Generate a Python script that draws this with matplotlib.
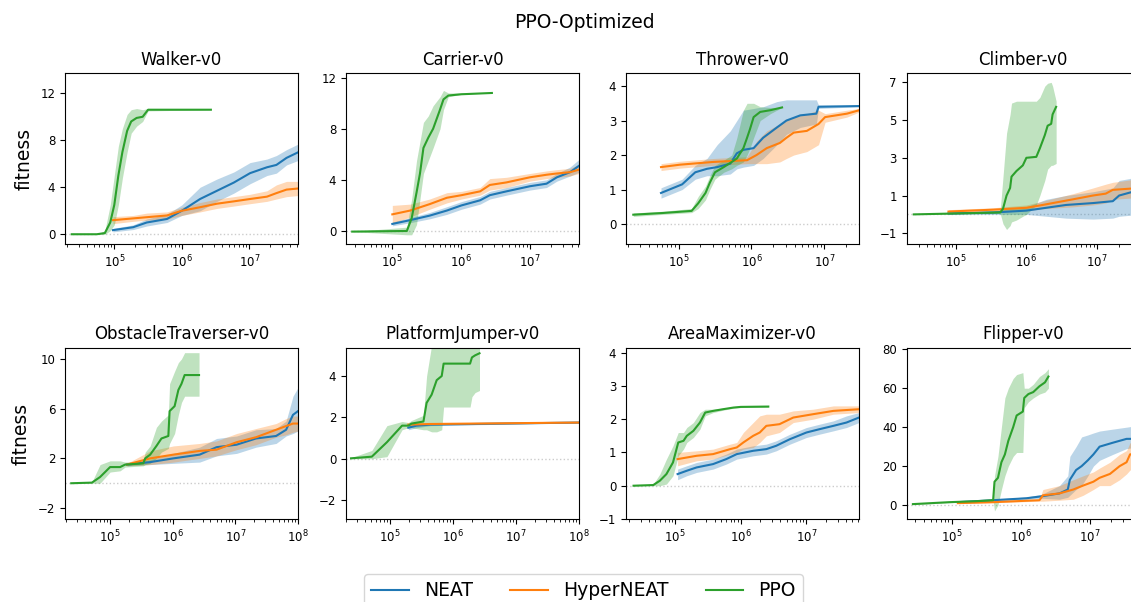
import numpy as np
import matplotlib
matplotlib.use("Agg")
import matplotlib.pyplot as plt

# ---------------- data (x stored as log10 of steps) ----------------
TITLES = ["Walker-v0", "Carrier-v0", "Thrower-v0", "Climber-v0",
          "ObstacleTraverser-v0", "PlatformJumper-v0", "AreaMaximizer-v0", "Flipper-v0"]
METHODS = ["NEAT", "HyperNEAT", "PPO"]
COLORS = ["#1f77b4", "#ff7f0e", "#2ca02c"]

# Walker
walker_ppo_x = [4.37, 4.74, 4.86, 4.94, 5.0, 5.06, 5.12, 5.19, 5.25, 5.33, 5.42, 5.5, 6.43]
walker_ppo_y = [0, 0, 0.1, 1.0, 2.5, 5.0, 7.0, 8.8, 9.6, 9.9, 10.0, 10.6, 10.6]
walker_ppo_lo = [0, 0, 0, 0.3, 0.8, 2.5, 4.8, 7.0, 8.6, 9.2, 9.6, 10.5, 10.6]
walker_ppo_hi = [0, 0, 0.3, 2.5, 5.0, 7.5, 9.0, 10.2, 10.6, 10.7, 10.6, 10.7, 10.6]
walker_evo_x = [4.98, 5.28, 5.48, 5.78, 6.0, 6.27, 6.52, 6.77, 7.01, 7.26, 7.40, 7.55, 7.73]
walker_neat_y = [0.35, 0.6, 1.0, 1.3, 2.0, 3.0, 3.7, 4.4, 5.2, 5.7, 5.9, 6.5, 7.0]
walker_neat_lo = [0.2, 0.4, 0.7, 1.0, 1.6, 2.0, 2.8, 3.5, 4.3, 5.0, 5.2, 5.9, 6.3]
walker_neat_hi = [0.5, 0.8, 1.3, 1.7, 2.5, 4.0, 4.7, 5.3, 6.1, 6.4, 6.7, 7.2, 7.7]
walker_hyper_y = [1.2, 1.35, 1.45, 1.6, 2.0, 2.3, 2.6, 2.8, 3.0, 3.2, 3.5, 3.8, 3.9]
walker_hyper_lo = [0.9, 1.1, 1.2, 1.3, 1.6, 1.9, 2.2, 2.4, 2.6, 2.8, 3.0, 3.2, 3.3]
walker_hyper_hi = [1.5, 1.6, 1.8, 1.9, 2.3, 2.7, 3.0, 3.2, 3.4, 3.7, 4.2, 4.5, 4.5]

# Carrier
carrier_ppo_x = [4.43, 5.22, 5.29, 5.36, 5.41, 5.46, 5.53, 5.60, 5.70, 5.75, 5.82, 6.01, 6.45]
carrier_ppo_y = [-0.05, 0, 1.0, 3.0, 4.5, 6.5, 7.3, 8.0, 9.5, 10.3, 10.6, 10.7, 10.8]
carrier_ppo_lo = [-0.05, -0.3, -0.3, 0.5, 2.5, 4.5, 5.5, 6.5, 8.0, 9.5, 10.5, 10.7, 10.8]
carrier_ppo_hi = [-0.05, 0.3, 2.5, 5.5, 7.0, 8.5, 9.0, 9.8, 10.5, 11.0, 10.8, 10.8, 10.8]
carrier_evo_x = [5.01, 5.27, 5.55, 5.80, 6.01, 6.28, 6.42, 6.66, 7.0, 7.24, 7.39, 7.58, 7.71]
carrier_neat_y = [0.55, 0.85, 1.2, 1.6, 2.0, 2.4, 2.8, 3.1, 3.5, 3.7, 4.2, 4.6, 5.1]
carrier_neat_lo = [0.4, 0.65, 0.95, 1.3, 1.7, 2.1, 2.5, 2.8, 3.2, 3.4, 3.9, 4.3, 4.6]
carrier_neat_hi = [0.7, 1.05, 1.45, 1.9, 2.3, 2.7, 3.1, 3.4, 3.8, 4.0, 4.5, 5.0, 5.6]
carrier_hyper_y = [1.3, 1.6, 2.1, 2.6, 2.8, 3.1, 3.6, 3.8, 4.2, 4.4, 4.5, 4.6, 4.8]
carrier_hyper_lo = [0.6, 1.1, 1.7, 2.2, 2.5, 2.8, 3.2, 3.4, 3.9, 4.1, 4.2, 4.3, 4.5]
carrier_hyper_hi = [2.0, 2.1, 2.5, 3.0, 3.1, 3.4, 4.1, 4.2, 4.5, 4.7, 4.8, 4.9, 5.2]

# Thrower
thrower_ppo_x = [4.38, 4.79, 5.18, 5.27, 5.37, 5.43, 5.50, 5.62, 5.73, 5.80, 5.89, 5.94, 5.98, 6.03, 6.12, 6.26, 6.42]
thrower_ppo_y = [0.27, 0.32, 0.38, 0.6, 0.9, 1.2, 1.5, 1.65, 1.8, 1.9, 2.2, 2.5, 2.75, 3.1, 3.25, 3.3, 3.38]
thrower_ppo_lo = [0.22, 0.28, 0.33, 0.45, 0.7, 1.0, 1.3, 1.5, 1.6, 1.7, 1.8, 2.0, 2.2, 2.5, 3.0, 3.2, 3.38]
thrower_ppo_hi = [0.32, 0.37, 0.45, 0.8, 1.1, 1.4, 1.7, 1.85, 2.0, 2.5, 3.3, 3.5, 3.5, 3.5, 3.4, 3.38, 3.38]
thrower_neat_x = [4.76, 5.05, 5.23, 5.39, 5.53, 5.71, 5.80, 5.89, 6.03, 6.16, 6.35, 6.48, 6.67, 6.89, 6.92, 7.48]
thrower_neat_y = [0.9, 1.15, 1.5, 1.6, 1.65, 1.75, 2.05, 2.15, 2.2, 2.5, 2.8, 3.0, 3.15, 3.2, 3.4, 3.42]
thrower_neat_lo = [0.75, 1.0, 1.3, 1.4, 1.4, 1.45, 1.6, 1.65, 1.7, 1.9, 2.3, 2.6, 2.8, 2.9, 3.35, 3.4]
thrower_neat_hi = [1.05, 1.3, 1.7, 1.9, 2.3, 2.7, 3.0, 3.3, 3.35, 3.4, 3.55, 3.6, 3.6, 3.6, 3.45, 3.44]
thrower_hyper_x = [4.76, 5.02, 5.48, 5.94, 6.07, 6.21, 6.39, 6.48, 6.58, 6.76, 6.92, 7.01, 7.31, 7.48]
thrower_hyper_y = [1.65, 1.72, 1.8, 1.85, 2.0, 2.2, 2.35, 2.5, 2.65, 2.7, 2.9, 3.1, 3.2, 3.3]
thrower_hyper_lo = [1.55, 1.62, 1.7, 1.75, 1.75, 1.75, 1.8, 1.9, 2.0, 2.1, 2.3, 2.95, 3.1, 3.25]
thrower_hyper_hi = [1.75, 1.82, 1.9, 1.95, 2.4, 2.7, 2.9, 3.0, 3.1, 3.2, 3.3, 3.2, 3.3, 3.35]

# Climber
climber_ppo_x = [4.41, 5.63, 5.67, 5.72, 5.77, 5.79, 5.86, 5.95, 6.0, 6.14, 6.19, 6.26, 6.30, 6.35, 6.37, 6.42]
climber_ppo_y = [0, 0.1, 0.3, 1.0, 1.4, 2.0, 2.3, 2.6, 3.0, 3.05, 3.5, 4.2, 4.7, 4.8, 5.3, 5.7]
climber_ppo_lo = [0, 0.05, -0.5, -0.8, -0.6, -0.4, -0.3, -0.1, 0.0, 0.5, 1.0, 1.8, 2.4, 2.6, 2.6, 2.7]
climber_ppo_hi = [0, 0.2, 2.0, 4.3, 5.3, 5.9, 6.0, 6.0, 6.0, 6.0, 6.2, 6.8, 6.95, 7.0, 6.8, 6.0]
climber_neat_x = [4.9, 5.53, 6.0, 6.28, 6.56, 6.94, 7.22, 7.31, 7.6]
climber_neat_y = [0.05, 0.1, 0.2, 0.35, 0.5, 0.6, 0.7, 1.0, 1.3]
climber_neat_lo = [0.0, 0.0, 0.0, -0.1, -0.2, -0.25, -0.2, -0.1, 0.0]
climber_neat_hi = [0.1, 0.2, 0.4, 0.8, 1.0, 1.2, 1.4, 1.8, 2.0]
climber_hyper_x = [4.9, 5.53, 6.0, 6.23, 6.66, 6.94, 7.12, 7.22, 7.6]
climber_hyper_y = [0.15, 0.25, 0.35, 0.5, 0.8, 1.0, 1.1, 1.3, 1.4]
climber_hyper_lo = [0.05, 0.15, 0.2, 0.3, 0.4, 0.5, 0.6, 0.8, 0.9]
climber_hyper_hi = [0.25, 0.35, 0.5, 0.7, 1.1, 1.4, 1.6, 1.7, 1.9]

# ObstacleTraverser
obst_ppo_x = [4.38, 4.71, 4.84, 5.0, 5.16, 5.24, 5.53, 5.56, 5.64, 5.74, 5.82, 5.93, 5.95, 6.03, 6.09, 6.14, 6.19, 6.42]
obst_ppo_y = [0, 0.05, 0.5, 1.3, 1.3, 1.5, 1.6, 2.0, 2.3, 3.0, 3.6, 3.8, 5.8, 6.2, 7.5, 8.0, 8.7, 8.7]
obst_ppo_lo = [0, 0.0, 0.0, 0.9, 1.0, 1.3, 1.4, 1.5, 1.6, 2.0, 2.5, 2.8, 3.2, 4.0, 5.5, 6.5, 7.0, 7.0]
obst_ppo_hi = [0, 0.1, 1.5, 1.8, 1.8, 1.7, 1.8, 2.5, 3.0, 4.5, 5.0, 5.5, 8.0, 9.0, 9.7, 10.0, 10.5, 10.5]
obst_evo_x = [5.27, 5.64, 6.01, 6.43, 6.70, 7.02, 7.33, 7.65, 7.81, 7.92, 8.0]
obst_neat_y = [1.5, 1.7, 2.0, 2.3, 2.9, 3.1, 3.6, 3.8, 4.3, 5.5, 5.8]
obst_neat_lo = [1.4, 1.5, 1.6, 1.7, 2.2, 2.4, 2.9, 3.2, 3.8, 4.0, 4.2]
obst_neat_hi = [1.6, 1.9, 2.4, 2.9, 3.6, 3.8, 4.3, 4.4, 5.0, 7.0, 7.7]
obst_hyper_y = [1.5, 2.0, 2.3, 2.6, 2.7, 3.3, 3.7, 4.3, 4.6, 4.8, 4.8]
obst_hyper_lo = [1.4, 1.5, 1.7, 2.0, 2.2, 2.7, 3.1, 3.7, 3.9, 4.1, 4.2]
obst_hyper_hi = [1.6, 2.6, 3.0, 3.2, 3.4, 4.0, 4.4, 4.8, 5.2, 5.4, 5.4]

# PlatformJumper
plat_ppo_x = [4.38, 4.71, 4.95, 5.19, 5.29, 5.34, 5.53, 5.58, 5.66, 5.74, 5.82, 5.85, 6.27, 6.30, 6.35, 6.42]
plat_ppo_y = [0.02, 0.1, 0.8, 1.6, 1.6, 1.7, 1.8, 2.7, 3.1, 3.8, 4.0, 4.6, 4.6, 4.9, 5.0, 5.1]
plat_ppo_lo = [0.0, 0.0, 0.1, 1.4, 1.5, 1.5, 1.4, 1.4, 1.3, 1.3, 1.4, 2.5, 2.5, 3.0, 3.2, 3.3]
plat_ppo_hi = [0.05, 0.4, 1.6, 1.8, 1.75, 1.85, 2.1, 4.0, 5.5, 5.8, 5.8, 5.8, 5.8, 5.8, 5.8, 5.5]
plat_neat_x = [5.29, 5.42, 5.64, 8.0]
plat_neat_y = [1.5, 1.6, 1.65, 1.75]
plat_neat_lo = [1.4, 1.5, 1.6, 1.74]
plat_neat_hi = [1.6, 1.7, 1.7, 1.76]
plat_hyper_x = [5.29, 5.64, 8.0]
plat_hyper_y = [1.65, 1.68, 1.75]
plat_hyper_lo = [1.6, 1.64, 1.73]
plat_hyper_hi = [1.7, 1.72, 1.77]

# AreaMaximizer
area_ppo_x = [4.37, 4.67, 4.77, 4.87, 4.97, 5.05, 5.13, 5.18, 5.28, 5.38, 5.46, 5.58, 5.73, 5.89, 6.0, 6.42]
area_ppo_y = [0, 0.02, 0.15, 0.35, 0.7, 1.3, 1.35, 1.5, 1.65, 1.9, 2.2, 2.25, 2.3, 2.35, 2.37, 2.38]
area_ppo_lo = [0, 0, 0.0, 0.05, 0.3, 0.9, 1.1, 1.3, 1.45, 1.7, 2.1, 2.2, 2.27, 2.33, 2.35, 2.36]
area_ppo_hi = [0, 0.05, 0.35, 0.8, 1.2, 1.6, 1.6, 1.75, 1.9, 2.2, 2.3, 2.3, 2.33, 2.38, 2.4, 2.4]
area_neat_x = [5.04, 5.18, 5.33, 5.58, 5.78, 5.94, 6.19, 6.39, 6.54, 6.75, 7.0, 7.2, 7.41, 7.61, 7.8]
area_neat_y = [0.35, 0.45, 0.55, 0.65, 0.8, 0.95, 1.05, 1.1, 1.2, 1.4, 1.6, 1.7, 1.8, 1.9, 2.05]
area_neat_lo = [0.18, 0.3, 0.4, 0.5, 0.65, 0.8, 0.9, 0.95, 1.05, 1.25, 1.45, 1.55, 1.65, 1.75, 1.9]
area_neat_hi = [0.5, 0.6, 0.7, 0.8, 0.95, 1.1, 1.2, 1.25, 1.35, 1.55, 1.75, 1.85, 1.95, 2.1, 2.2]
area_hyper_x = [5.04, 5.33, 5.58, 5.84, 5.94, 6.04, 6.19, 6.29, 6.39, 6.59, 6.8, 7.1, 7.41, 7.8]
area_hyper_y = [0.8, 0.9, 0.95, 1.1, 1.15, 1.3, 1.5, 1.6, 1.8, 1.85, 2.05, 2.15, 2.25, 2.3]
area_hyper_lo = [0.6, 0.75, 0.8, 0.95, 1.0, 1.1, 1.15, 1.3, 1.5, 1.6, 1.9, 2.0, 2.15, 2.2]
area_hyper_hi = [1.0, 1.05, 1.1, 1.25, 1.3, 1.6, 1.9, 2.1, 2.15, 2.15, 2.25, 2.3, 2.4, 2.4]

# Flipper
flip_ppo_x = [4.44, 4.97, 5.36, 5.60, 5.62, 5.67, 5.72, 5.77, 5.82, 5.89, 5.94, 6.03, 6.05, 6.11, 6.18, 6.27, 6.35, 6.40]
flip_ppo_y = [0.5, 1.5, 2.0, 2.5, 12, 14, 22, 26, 33, 40, 46, 48, 55, 57, 58, 61, 63, 66]
flip_ppo_lo = [0.3, 1.2, 1.7, 2.0, -3, 0, 8, 15, 20, 25, 27, 27, 50, 53, 55, 57, 58, 60]
flip_ppo_hi = [0.7, 1.8, 2.3, 3.0, 15, 25, 40, 55, 60, 65, 67, 68, 60, 60, 62, 66, 68, 70]
flip_neat_x = [5.09, 5.6, 6.08, 6.3, 6.56, 6.68, 6.71, 6.8, 6.88, 6.97, 7.05, 7.14, 7.33, 7.53, 7.72]
flip_neat_y = [1.5, 2.5, 3.5, 4.5, 6, 8, 13, 18, 20, 23, 26, 30, 32, 34, 34]
flip_neat_lo = [1.2, 2.0, 2.8, 3.5, 3.0, 4.0, 5.0, 8.0, 10, 15, 20, 23, 26, 29, 30]
flip_neat_hi = [1.8, 3.0, 4.2, 5.5, 10, 15, 25, 30, 35, 36, 37, 38, 39, 40, 41]
flip_hyper_x = [5.09, 5.6, 6.27, 6.32, 6.56, 6.76, 6.9, 7.05, 7.14, 7.29, 7.43, 7.53, 7.58, 7.72]
flip_hyper_y = [1.0, 1.5, 2.5, 5, 6, 8, 10, 12, 14, 16, 20, 22, 26, 27]
flip_hyper_lo = [0.8, 1.2, 2.0, 2.0, 2.5, 3, 5, 8, 10, 10, 13, 16, 18, 20]
flip_hyper_hi = [1.2, 1.8, 3.0, 8.0, 10, 13, 15, 17, 19, 22, 26, 28, 32, 33]

# axis settings
XLIMS_LOG = [(4.27, 7.72), (4.34, 7.71), (4.28, 7.475), (4.31, 7.6),
             (4.28, 8.0), (4.30, 8.0), (4.255, 7.8), (4.35, 7.72)]
YLIMS = [(-0.83, 13.7), (-1.02, 12.34), (-0.58, 4.37), (-1.57, 7.48),
         (-2.9, 10.9), (-2.93, 5.37), (-1.01, 4.15), (-7.3, 80.8)]
YTICKS = [[0, 4, 8, 12], [0, 4, 8, 12], [0, 1, 2, 3, 4], [-1, 1, 3, 5, 7],
          [-2, 2, 6, 10], [-2, 0, 2, 4], [-1, 0, 1, 2, 3, 4], [0, 20, 40, 60, 80]]

PANELS = [
    [(walker_evo_x, walker_neat_y, walker_neat_lo, walker_neat_hi),
     (walker_evo_x, walker_hyper_y, walker_hyper_lo, walker_hyper_hi),
     (walker_ppo_x, walker_ppo_y, walker_ppo_lo, walker_ppo_hi)],
    [(carrier_evo_x, carrier_neat_y, carrier_neat_lo, carrier_neat_hi),
     (carrier_evo_x, carrier_hyper_y, carrier_hyper_lo, carrier_hyper_hi),
     (carrier_ppo_x, carrier_ppo_y, carrier_ppo_lo, carrier_ppo_hi)],
    [(thrower_neat_x, thrower_neat_y, thrower_neat_lo, thrower_neat_hi),
     (thrower_hyper_x, thrower_hyper_y, thrower_hyper_lo, thrower_hyper_hi),
     (thrower_ppo_x, thrower_ppo_y, thrower_ppo_lo, thrower_ppo_hi)],
    [(climber_neat_x, climber_neat_y, climber_neat_lo, climber_neat_hi),
     (climber_hyper_x, climber_hyper_y, climber_hyper_lo, climber_hyper_hi),
     (climber_ppo_x, climber_ppo_y, climber_ppo_lo, climber_ppo_hi)],
    [(obst_evo_x, obst_neat_y, obst_neat_lo, obst_neat_hi),
     (obst_evo_x, obst_hyper_y, obst_hyper_lo, obst_hyper_hi),
     (obst_ppo_x, obst_ppo_y, obst_ppo_lo, obst_ppo_hi)],
    [(plat_neat_x, plat_neat_y, plat_neat_lo, plat_neat_hi),
     (plat_hyper_x, plat_hyper_y, plat_hyper_lo, plat_hyper_hi),
     (plat_ppo_x, plat_ppo_y, plat_ppo_lo, plat_ppo_hi)],
    [(area_neat_x, area_neat_y, area_neat_lo, area_neat_hi),
     (area_hyper_x, area_hyper_y, area_hyper_lo, area_hyper_hi),
     (area_ppo_x, area_ppo_y, area_ppo_lo, area_ppo_hi)],
    [(flip_neat_x, flip_neat_y, flip_neat_lo, flip_neat_hi),
     (flip_hyper_x, flip_hyper_y, flip_hyper_lo, flip_hyper_hi),
     (flip_ppo_x, flip_ppo_y, flip_ppo_lo, flip_ppo_hi)],
]

# ---------------- layout ----------------
W, H = 1131, 602
fig = plt.figure(figsize=(W / 100, H / 100), dpi=100)
LEFTS = [65, 346, 626, 906.7]
AX_W = 233
ROWS = [(73.3, 244.0), (347.7, 519.3)]

handles = []
for i in range(8):
    r, c = divmod(i, 4)
    top, bot = ROWS[r]
    ax = fig.add_axes([LEFTS[c] / W, 1 - bot / H, AX_W / W, (bot - top) / H])
    ax.axhline(0, color="0.8", lw=1.0, ls=":", zorder=0)
    for k, (x, y, lo, hi) in enumerate(PANELS[i]):
        xs = 10 ** np.asarray(x, dtype=float)
        ax.fill_between(xs, lo, hi, color=COLORS[k], alpha=0.3, lw=0)
        ln, = ax.plot(xs, y, color=COLORS[k], lw=1.5, label=METHODS[k])
        if i == 0:
            handles.append(ln)
    ax.set_xscale("log")
    ax.set_xlim(10 ** XLIMS_LOG[i][0], 10 ** XLIMS_LOG[i][1])
    ax.set_ylim(*YLIMS[i])
    ax.set_yticks(YTICKS[i])
    ax.tick_params(labelsize=8.5)
    ax.set_title(TITLES[i], fontsize=12)
    if c == 0:
        ax.set_ylabel("fitness", fontsize=13.5, labelpad=5)

fig.suptitle("PPO-Optimized", fontsize=13.5, x=584 / W, y=1 - 13 / H, va="top")
fig.legend(handles, METHODS, loc="upper center", ncol=3, fontsize=13.5,
           borderaxespad=0, bbox_to_anchor=(583.5 / W, 1 - 574 / H))

fig.savefig("out.png", dpi=100)
